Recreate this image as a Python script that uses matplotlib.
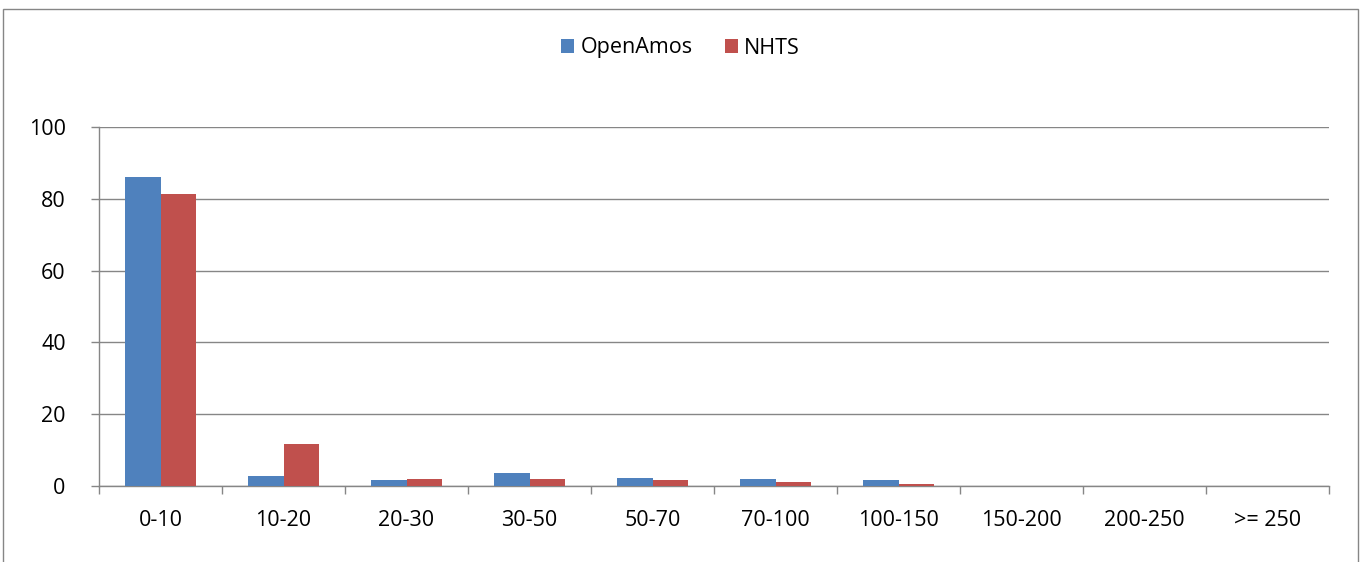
import numpy as np
import matplotlib.pyplot as plt
from matplotlib.patches import Rectangle

categories = ["0-10", "10-20", "20-30", "30-50", "50-70", "70-100",
              "100-150", "150-200", "200-250", ">= 250"]
openamos = [86.2, 2.9, 1.6, 3.7, 2.2, 1.9, 1.6, 0.1, 0.05, 0.05]
nhts = [81.4, 11.6, 1.9, 2.0, 1.6, 1.1, 0.6, 0.05, 0.05, 0.1]

plt.rcParams['font.family'] = ['Open Sans', 'DejaVu Sans']

fig = plt.figure(figsize=(13.61, 5.62), dpi=100)
ax = fig.add_axes([99 / 1361, 1 - 486 / 562, (1329 - 99) / 1361, (486 - 127) / 562])

# outer chart border
fig.patches.append(Rectangle((3 / 1361, -0.1), (1358 - 3) / 1361, 1.1 - 9 / 562,
                             transform=fig.transFigure, fill=False,
                             edgecolor="#868686", linewidth=1))

x = np.arange(len(categories))
w = 0.285
ax.bar(x - w / 2, openamos, w, color="#4F81BD", label="OpenAmos", zorder=3)
ax.bar(x + w / 2, nhts, w, color="#C0504D", label="NHTS", zorder=3)

ax.set_xlim(-0.5, len(categories) - 0.5)
ax.set_ylim(0, 100)
ax.set_yticks(range(0, 101, 20))
ax.yaxis.grid(True, color="#868686", linewidth=1, zorder=0)

ax.set_xticks(x)
ax.set_xticklabels(categories, fontsize=15.5)
ax.set_xticks(np.arange(-0.5, len(categories), 1), minor=True)
ax.tick_params(axis="x", which="major", length=0, pad=17)
ax.tick_params(axis="x", which="minor", length=6, color="#868686", width=1)
ax.tick_params(axis="y", length=6, color="#868686", width=1, labelsize=15.5, pad=18)

for s in ["top", "right"]:
    ax.spines[s].set_visible(False)
for s in ["left", "bottom"]:
    ax.spines[s].set_color("#868686")
    ax.spines[s].set_linewidth(1)

leg = fig.legend(loc="center", bbox_to_anchor=(0.5, 1 - 48 / 562), ncol=2,
                 frameon=False, fontsize=15.5, handlelength=0.6, handleheight=0.6,
                 handletextpad=0.3, columnspacing=1.5)

fig.savefig("out.png", dpi=100)
